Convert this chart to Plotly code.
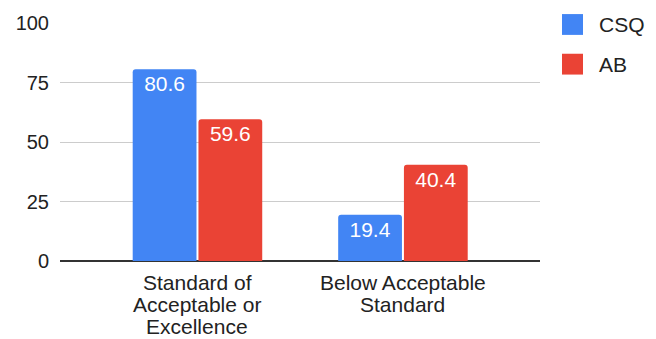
import plotly.graph_objects as go

# ---- data ----
categories = ["Standard of Acceptable or Excellence", "Below Acceptable Standard"]
category_lines = [["Standard of", "Acceptable or", "Excellence"], ["Below Acceptable", "Standard"]]
series_names = ["CSQ", "AB"]
csq_values = [80.6, 19.4]
ab_values = [59.6, 40.4]
y_ticks = [0, 25, 50, 75, 100]

colors = {"CSQ": "#4285F4", "AB": "#EA4335"}
FONT = "Liberation Sans, Arial, sans-serif"
W, H = 656, 339
ML, MR, MT, MB = 60, 116, 21, 78
PW, PH = W - ML - MR, H - MT - MB


def px_x(x):
    return (x - ML) / PW


def px_y(y):
    return (H - MB - y) / PH


fig = go.Figure()
for name, vals in zip(series_names, [csq_values, ab_values]):
    fig.add_trace(go.Bar(
        x=categories, y=vals, name=name,
        marker=dict(color=colors[name], cornerradius=3, line=dict(width=0)),
        text=[f"{v:.1f}" for v in vals],
        textposition="inside", insidetextanchor="end",
        insidetextfont=dict(color="white", size=21, family=FONT),
        textangle=0, showlegend=False,
    ))

annotations = []
for cat, lines in zip(categories, category_lines):
    for i, line in enumerate(lines):
        annotations.append(dict(
            x=cat, xref="x", y=0, yref="paper", yanchor="top", xanchor="center",
            yshift=-8 - i * 22, text=line, showarrow=False,
            font=dict(size=21, family=FONT, color="#222222"),
        ))

shapes = []
leg_tops = [12, 52]
for name, top in zip(series_names, leg_tops):
    shapes.append(dict(
        type="rect", xref="paper", yref="paper",
        x0=px_x(562), x1=px_x(583), y0=px_y(top + 21), y1=px_y(top),
        fillcolor=colors[name], line=dict(width=0), layer="above",
    ))
    annotations.append(dict(
        x=px_x(597), xref="paper", y=px_y(top + 10.5), yref="paper",
        xanchor="left", yanchor="middle", text=name, showarrow=False,
        font=dict(size=21, family=FONT, color="#222222"),
    ))

fig.update_layout(
    width=W, height=H,
    margin=dict(l=ML, r=MR, t=MT, b=MB, pad=0),
    plot_bgcolor="white", paper_bgcolor="white",
    barmode="group", bargap=0.36, bargroupgap=0.03,
    font=dict(family=FONT, size=21, color="#222222"),
    xaxis=dict(range=[-0.669, 1.667], showticklabels=False, showgrid=False,
               zeroline=False, showline=False, ticks=""),
    yaxis=dict(range=[0, 100], tickvals=y_ticks, ticktext=[str(t) for t in y_ticks],
               showgrid=True, gridcolor="#cccccc", gridwidth=1,
               zeroline=True, zerolinecolor="#333333", zerolinewidth=1.5,
               showline=False, ticks="", ticklabelstandoff=10,
               tickfont=dict(size=20, family=FONT, color="#222222")),
    annotations=annotations, shapes=shapes,
)

fig.write_html("out.html")
